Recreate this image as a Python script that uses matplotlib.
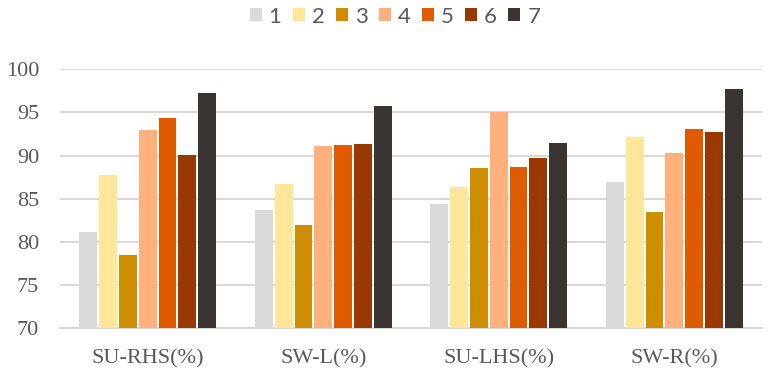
import matplotlib
matplotlib.use("Agg")
import matplotlib.pyplot as plt
import numpy as np

categories = ["SU-RHS(%)", "SW-L(%)", "SU-LHS(%)", "SW-R(%)"]
series_names = ["1", "2", "3", "4", "5", "6", "7"]
s1 = [81.1, 83.7, 84.4, 86.9]
s2 = [87.8, 86.7, 86.4, 92.2]
s3 = [78.5, 82.0, 88.6, 83.5]
s4 = [93.0, 91.1, 95.0, 90.3]
s5 = [94.4, 91.2, 88.7, 93.05]
s6 = [90.1, 91.4, 89.7, 92.7]
s7 = [97.2, 95.75, 91.5, 97.7]
series = [s1, s2, s3, s4, s5, s6, s7]
colors = ["#D9D9D9", "#FFE699", "#CF8E00", "#FFB07C", "#E05A00", "#993800", "#3A3433"]
yticks = [70, 75, 80, 85, 90, 95, 100]

fig = plt.figure(figsize=(7.71, 3.75), dpi=100)
ax = fig.add_axes([60/771, 1-328.3/375, 702/771, 259/375])

x = np.arange(len(categories))
group_w = 0.79
slot = group_w / len(series)
for i, (vals, c, name) in enumerate(zip(series, colors, series_names)):
    offs = -group_w/2 + slot*(i+0.5)
    ax.bar(x + offs, np.array(vals) - 70, bottom=70, width=slot*0.9, color=c,
           label=name, zorder=3)

ax.set_xlim(-0.5, len(categories)-0.5)
ax.set_ylim(70, 100)
ax.set_yticks(yticks)
ax.set_yticklabels([str(t) for t in yticks], family="Liberation Serif", fontsize=16, color="#595959")
ax.set_xticks(x)
ax.set_xticklabels(categories, family="Liberation Serif", fontsize=16, color="#595959")
ax.tick_params(axis="x", length=0, pad=15)
ax.tick_params(axis="y", length=0, pad=15)
ax.grid(axis="y", color="#D9D9D9", linewidth=1.5, zorder=0)
for s in ["top", "right", "left"]:
    ax.spines[s].set_visible(False)
ax.spines["bottom"].set_color("#D9D9D9")
ax.spines["bottom"].set_linewidth(1.5)

fig.legend(loc="center", bbox_to_anchor=(395/771, 1-16.7/375), ncol=7, frameon=False,
           handlelength=0.54, handleheight=0.54, handletextpad=0.32, columnspacing=0.5,
           prop={"family": ["Liberation Sans Narrow", "Lato", "DejaVu Sans"], "size": 16},
           labelcolor="#595959")

fig.savefig("out.png", dpi=100)
